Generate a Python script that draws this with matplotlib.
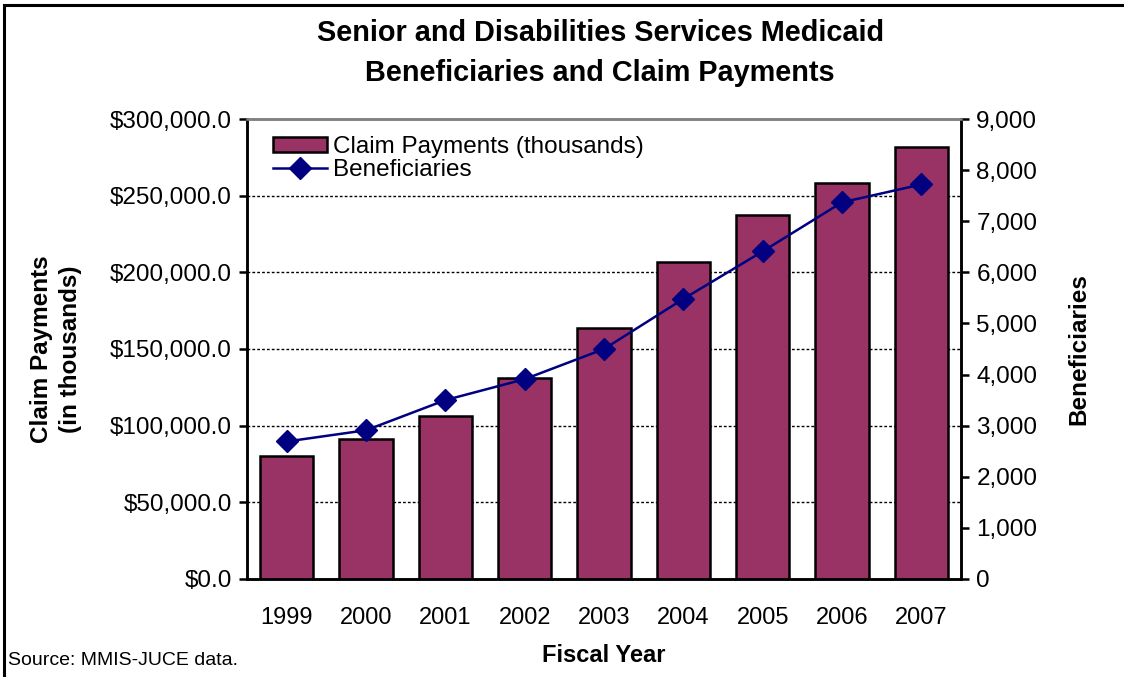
import matplotlib
matplotlib.use("Agg")
import matplotlib.pyplot as plt
import matplotlib.ticker as mticker
from matplotlib.patches import Rectangle
import numpy as np

plt.rcParams['font.family'] = ['Liberation Sans', 'DejaVu Sans']

# --- dati ---
anni = ['1999', '2000', '2001', '2002', '2003', '2004', '2005', '2006', '2007']
pagamenti = [80000, 91000, 106000, 131000, 164000, 207000, 237500, 258500, 281500]
beneficiari = [2690, 2910, 3500, 3910, 4500, 5480, 6410, 7370, 7720]

fig = plt.figure(figsize=(11.24, 6.77), dpi=100)
ax = fig.add_axes([0.2198, 0.1448, 0.6352, 0.6794])
ax2 = ax.twinx()

x = np.arange(len(anni))
ax.bar(x, pagamenti, width=0.67, color='#993366', edgecolor='black', linewidth=1.8,
       label='Claim Payments (thousands)', zorder=3)
ax2.plot(x, beneficiari, color='#000080', marker='D', markersize=11.5, linewidth=1.8,
         label='Beneficiaries', zorder=4)

# assi
ax.set_xlim(-0.5, len(anni) - 0.5)
ax.set_ylim(0, 300000)
ax2.set_ylim(0, 9000)
ax.set_yticks(np.arange(0, 300001, 50000))
ax2.set_yticks(np.arange(0, 9001, 1000))
ax.yaxis.set_major_formatter(mticker.FuncFormatter(lambda v, p: f"${v:,.1f}"))
ax2.yaxis.set_major_formatter(mticker.FuncFormatter(lambda v, p: f"{v:,.0f}"))
ax.set_xticks(x)
ax.set_xticklabels(anni)

for g in np.arange(50000, 300000, 50000):
    ax.axhline(g, color='black', linestyle=(0, (2, 1.5)), linewidth=1, zorder=1)

for a in (ax, ax2):
    a.tick_params(axis='y', labelsize=17.5, length=6, width=1.8, direction='out', pad=5)
    a.tick_params(axis='x', labelsize=17, length=0, pad=20)
    for s in ('left', 'right', 'bottom'):
        a.spines[s].set_linewidth(1.8)
        a.spines[s].set_color('black')
    a.spines['top'].set_color('#808080')
    a.spines['top'].set_linewidth(1.8)

ax.patch.set_visible(False)
ax2.patch.set_visible(False)
ax.set_zorder(1)
ax2.set_zorder(2)

ax.set_ylabel("Claim Payments\n(in thousands)", fontsize=17.5, fontweight='bold',
              labelpad=20, linespacing=1.35)
ax2.set_ylabel("Beneficiaries", fontsize=17.5, fontweight='bold', labelpad=22)
ax.set_xlabel("Fiscal Year", fontsize=17, fontweight='bold', labelpad=11)

fig.text(0.534, 0.972, "Senior and Disabilities Services Medicaid\nBeneficiaries and Claim Payments",
         ha='center', va='top', fontsize=20.8, fontweight='bold', linespacing=1.56)
fig.text(0.007, 0.012, "Source: MMIS-JUCE data.", fontsize=14, ha='left', va='bottom')

# legenda
h1, l1 = ax.get_legend_handles_labels()
h2, l2 = ax2.get_legend_handles_labels()
ax2.legend(h1 + h2, l1 + l2, loc='upper left', bbox_to_anchor=(0.013, 1.0), frameon=False,
           fontsize=17.5, handlelength=2.2, handleheight=0.6, handletextpad=0.25,
           labelspacing=0.05, borderaxespad=0.3)

# cornice
fig.patches.append(Rectangle((0.004, -0.01), 1.1, 1.003, transform=fig.transFigure,
                             fill=False, edgecolor='black', linewidth=2.2))

fig.savefig("out.png", dpi=100)
